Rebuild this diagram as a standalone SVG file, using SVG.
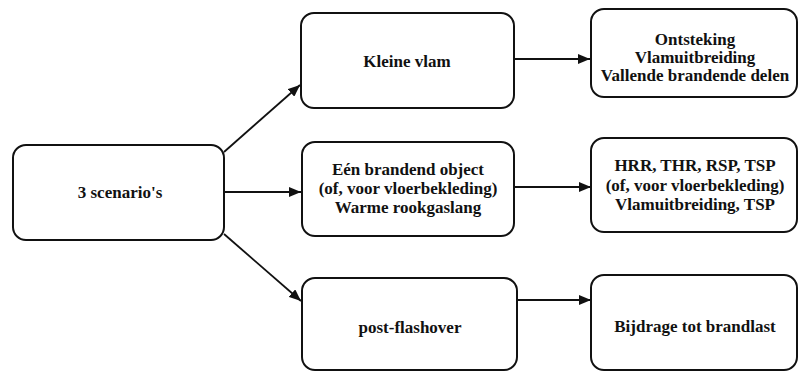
<svg xmlns="http://www.w3.org/2000/svg" width="799" height="372" viewBox="0 0 799 372">
<style>
.box{fill:#fff;stroke:#111;stroke-width:2}
.t{font-family:"Liberation Serif","Times New Roman",serif;font-weight:bold;font-size:17px;fill:#111;text-anchor:middle}
.c{stroke:#111;stroke-width:1.8;fill:none;marker-end:url(#ah)}
</style>
<defs>
<marker id="ah" viewBox="0 0 12 10" refX="12" refY="5" markerWidth="12" markerHeight="10" markerUnits="userSpaceOnUse" orient="auto">
<path d="M0,0 L12,5 L0,10 Z" fill="#111"/>
</marker>
</defs>
<rect width="799" height="372" fill="#fff"/>
<g id="connectors">
<line class="c" x1="224" y1="152" x2="300" y2="85"/>
<line class="c" x1="224" y1="192" x2="301" y2="192"/>
<line class="c" x1="224" y1="234" x2="301" y2="301"/>
<line class="c" x1="514" y1="59" x2="590" y2="59"/>
<line class="c" x1="514" y1="187" x2="591" y2="187"/>
<line class="c" x1="517" y1="300" x2="591" y2="300"/>
</g>
<g id="n0">
<rect class="box" x="13" y="145" width="211" height="95" rx="13"/>
<text class="t" x="120" y="198">3 scenario's</text>
</g>
<g id="n1">
<rect class="box" x="301" y="13" width="213" height="95" rx="13"/>
<text class="t" x="407" y="67">Kleine vlam</text>
</g>
<g id="n2">
<rect class="box" x="302" y="142" width="212" height="94" rx="13"/>
<text class="t" x="408" y="175">Eén brandend object</text>
<text class="t" x="408" y="194">(of, voor vloerbekleding)</text>
<text class="t" x="408" y="213">Warme rookgaslang</text>
</g>
<g id="n3">
<rect class="box" x="302" y="278" width="215" height="92" rx="13"/>
<text class="t" x="410" y="333">post-flashover</text>
</g>
<g id="n4">
<rect class="box" x="591" y="9" width="206" height="88" rx="13"/>
<text class="t" x="695" y="45">Ontsteking</text>
<text class="t" x="695" y="63">Vlamuitbreiding</text>
<text class="t" x="695" y="81">Vallende brandende delen</text>
</g>
<g id="n5">
<rect class="box" x="591" y="138" width="206" height="94" rx="13"/>
<text class="t" x="695" y="171">HRR, THR, RSP, TSP</text>
<text class="t" x="695" y="191">(of, voor vloerbekleding)</text>
<text class="t" x="695" y="210">Vlamuitbreiding, TSP</text>
</g>
<g id="n6">
<rect class="box" x="591" y="275" width="206" height="95" rx="13"/>
<text class="t" x="695" y="332">Bijdrage tot brandlast</text>
</g>
</svg>
